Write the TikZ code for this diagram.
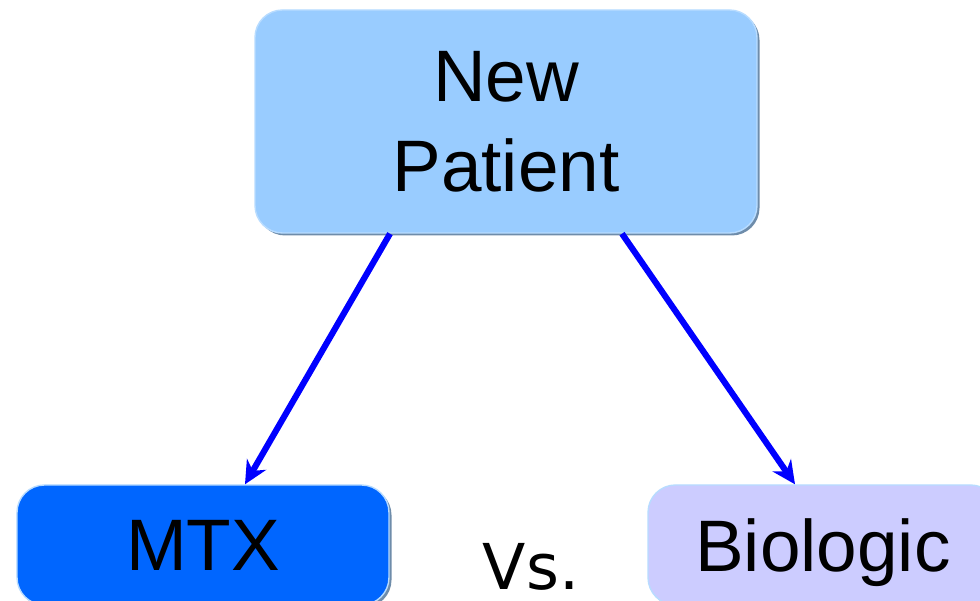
\documentclass[tikz,border=0pt]{standalone}
\usepackage{fontspec}
\setmainfont{Liberation Sans}
\newfontfamily\vsfont{DejaVu Sans}
\usetikzlibrary{arrows.meta,shadows}
\definecolor{sky}{HTML}{99CCFF}
\definecolor{royal}{HTML}{0066FF}
\definecolor{lavender}{HTML}{CCCCFF}
\definecolor{rim}{HTML}{B8DCFF}
\definecolor{shade}{HTML}{6E8CAA}
\definecolor{pureblue}{HTML}{0000FF}

\begin{document}
\begin{tikzpicture}[
          every node/.style={font=\fontsize{41.5}{51}\selectfont},
          box/.style={rectangle,rounded corners=.55cm,draw=rim,line width=.8pt,
              drop shadow={shadow xshift=.05cm,shadow yshift=-.05cm,fill=shade,opacity=1},
              align=center},
          link/.style={-{Stealth[length=.46cm,width=.44cm]},line width=3.5pt,pureblue}]
        \clip (0,0) rectangle (19.6,12.02);
        \node[box,fill=sky,minimum width=10.04cm,minimum height=4.46cm] (patient) at (10.12,9.59)
          {New\\Patient};
        \node[box,fill=royal,minimum width=7.44cm,minimum height=2.4cm,text depth=0pt] (mtx) at (4.06,1.12)
          {MTX};
        \node[box,fill=lavender,minimum width=7cm,minimum height=2.4cm,text depth=0pt] (biologic) at (16.46,1.12)
          {Biologic};
        \node[font=\vsfont\fontsize{36}{40}\selectfont,anchor=base,inner sep=0pt] (vs) at (10.62,.22) {Vs.};

        \draw[link] ([xshift=-2.32cm]patient.south)--([xshift=.84cm]mtx.north);
        \draw[link] ([xshift=2.32cm]patient.south)--([xshift=-.56cm]biologic.north);
      \end{tikzpicture}
\end{document}
